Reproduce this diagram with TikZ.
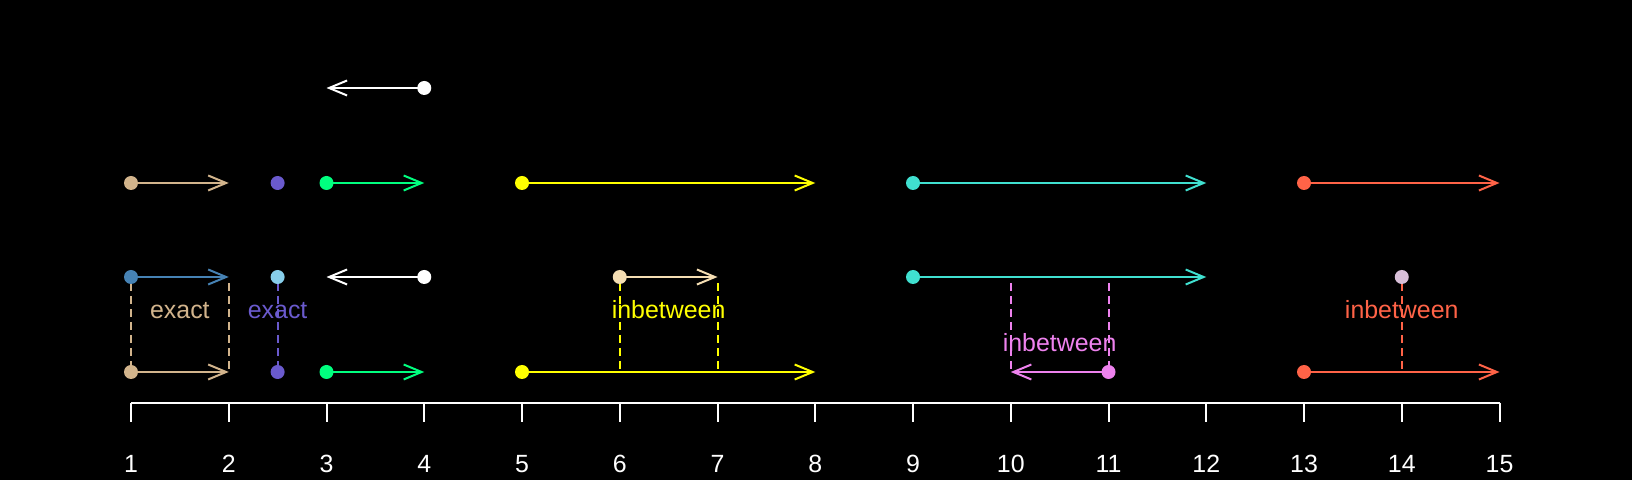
\documentclass[tikz,border=0pt]{standalone}
\usepackage{fontspec}
\setmainfont{Liberation Sans}
\usetikzlibrary{arrows.meta}
\definecolor{rtan}{HTML}{D2B48C}
\definecolor{rslate}{HTML}{6A5ACD}
\definecolor{rspring}{HTML}{00FF7F}
\definecolor{ryellow}{HTML}{FFFF00}
\definecolor{rturq}{HTML}{40E0D0}
\definecolor{rtomato}{HTML}{FF6347}
\definecolor{rsteel}{HTML}{4682B4}
\definecolor{rsky}{HTML}{87CEEB}
\definecolor{rwheat}{HTML}{F5DEB3}
\definecolor{rthistle}{HTML}{D8BFD8}
\definecolor{rviolet}{HTML}{EE82EE}
\tikzset{
  pt/.style={circle, fill=#1, inner sep=0pt, minimum size=14bp},
  seg/.style={draw=#1, line width=2bp, -{Straight Barb[length=18bp,width=15bp]}},
  guide/.style={draw=#1, line width=2bp, dash pattern=on 8bp off 5bp},
  lab/.style={text=#1, font=\fontsize{25}{30}\selectfont, anchor=base, inner sep=0pt},
  axis/.style={draw=white, line width=2bp},
}
\begin{document}
\begin{tikzpicture}[x=97.75bp, y=-1bp]
\fill[black] (-0.34015,0) rectangle (16.3555,480);
\useasboundingbox (-0.34015,0) rectangle (16.3555,480);
% end coordinates
\coordinate (e1w) at (3,88);
\coordinate (e2a) at (2,183);
\coordinate (e2c) at (4,183);
\coordinate (e2d) at (8,183);
\coordinate (e2e) at (12,183);
\coordinate (e2f) at (15,183);
\coordinate (e3a) at (2,277);
\coordinate (e3c) at (3,277);
\coordinate (e3d) at (7,277);
\coordinate (e3e) at (12,277);
\coordinate (e4a) at (2,372);
\coordinate (e4c) at (4,372);
\coordinate (e4d) at (8,372);
\coordinate (e4v) at (10,372);
\coordinate (e4f) at (15,372);
% guide coordinates
\coordinate (g3x1) at (1,283);
\coordinate (g3x2) at (2,283);
\coordinate (g3x25) at (2.5,283);
\coordinate (g3x6) at (6,283);
\coordinate (g3x7) at (7,283);
\coordinate (g3x10) at (10,283);
\coordinate (g3x11) at (11,283);
\coordinate (g3x14) at (14,283);
\coordinate (g4x1) at (1,372);
\coordinate (g4x2) at (2,372);
\coordinate (g4x25) at (2.5,372);
\coordinate (g4x6) at (6,372);
\coordinate (g4x7) at (7,372);
\coordinate (g4x10) at (10,372);
\coordinate (g4x11) at (11,372);
\coordinate (g4x14) at (14,372);
% dashed guides
\draw[guide=rtan] (g3x1) -- (g4x1);
\draw[guide=rtan] (g3x2) -- (g4x2);
\draw[guide=rslate] (g3x25) -- (g4x25);
\draw[guide=ryellow] (g3x6) -- (g4x6);
\draw[guide=ryellow] (g3x7) -- (g4x7);
\draw[guide=rviolet] (g3x10) -- (g4x10);
\draw[guide=rviolet] (g3x11) -- (g4x11);
\draw[guide=rtomato] (g3x14) -- (g4x14);
% point anchors
\coordinate (p1w) at (4,88);
\coordinate (p2a) at (1,183);
\coordinate (p2b) at (2.5,183);
\coordinate (p2c) at (3,183);
\coordinate (p2d) at (5,183);
\coordinate (p2e) at (9,183);
\coordinate (p2f) at (13,183);
\coordinate (p3a) at (1,277);
\coordinate (p3b) at (2.5,277);
\coordinate (p3c) at (4,277);
\coordinate (p3d) at (6,277);
\coordinate (p3e) at (9,277);
\coordinate (p3f) at (14,277);
\coordinate (p4a) at (1,372);
\coordinate (p4b) at (2.5,372);
\coordinate (p4c) at (3,372);
\coordinate (p4d) at (5,372);
\coordinate (p4v) at (11,372);
\coordinate (p4f) at (13,372);
% segments
\draw[seg=white] (p1w) -- (e1w);
\draw[seg=rtan] (p2a) -- (e2a);
\draw[seg=rspring] (p2c) -- (e2c);
\draw[seg=ryellow] (p2d) -- (e2d);
\draw[seg=rturq] (p2e) -- (e2e);
\draw[seg=rtomato] (p2f) -- (e2f);
\draw[seg=rsteel] (p3a) -- (e3a);
\draw[seg=white] (p3c) -- (e3c);
\draw[seg=rwheat] (p3d) -- (e3d);
\draw[seg=rturq] (p3e) -- (e3e);
\draw[seg=rtan] (p4a) -- (e4a);
\draw[seg=rspring] (p4c) -- (e4c);
\draw[seg=ryellow] (p4d) -- (e4d);
\draw[seg=rviolet] (p4v) -- (e4v);
\draw[seg=rtomato] (p4f) -- (e4f);
% points on top
\foreach \n/\c in {p1w/white,p2a/rtan,p2b/rslate,p2c/rspring,p2d/ryellow,p2e/rturq,p2f/rtomato,p3a/rsteel,p3b/rsky,p3c/white,p3d/rwheat,p3e/rturq,p3f/rthistle,p4a/rtan,p4b/rslate,p4c/rspring,p4d/ryellow,p4v/rviolet,p4f/rtomato}
  \node[pt=\c] (d\n) at (\n) {};
% labels
\node[lab=rtan] (l1) at (1.5,319) {exact};
\node[lab=rslate] (l2) at (2.5,319) {exact};
\node[lab=ryellow] (l3) at (6.5,319) {inbetween};
\node[lab=rviolet] (l4) at (10.5,352) {inbetween};
\node[lab=rtomato] (l5) at (14,319) {inbetween};
% axis
\coordinate (a1) at (1,403);
\coordinate (a15) at (15,403);
\draw[axis] (a1) -- (a15);
\foreach \i in {1,...,15} {
  \coordinate (t\i) at (\i,403);
  \coordinate (b\i) at (\i,422);
  \draw[axis] (t\i) -- (b\i);
  \node[lab=white] (n\i) at (\i,473) {\i};
}
\end{tikzpicture}
\end{document}
